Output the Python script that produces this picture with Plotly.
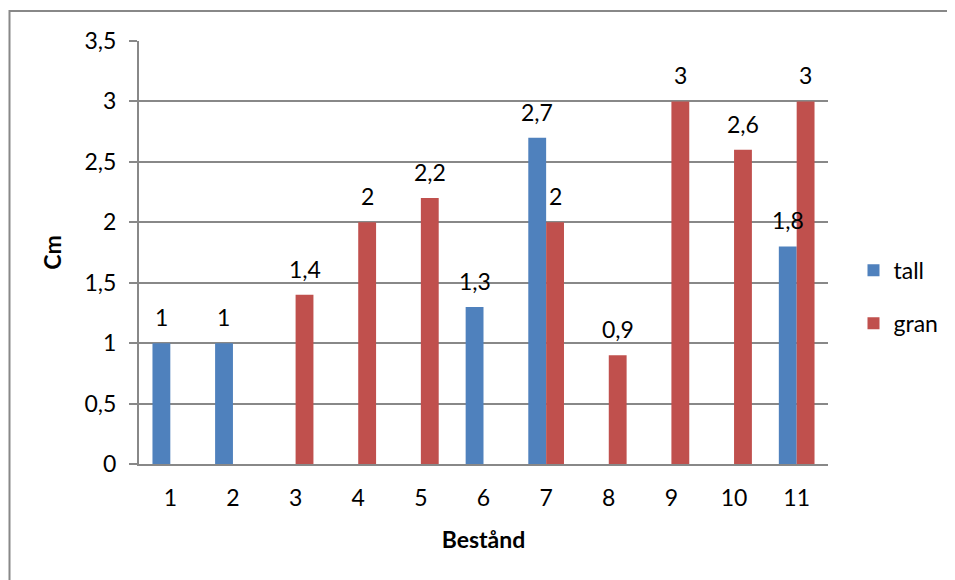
import plotly.graph_objects as go

categories = ["1", "2", "3", "4", "5", "6", "7", "8", "9", "10", "11"]
tall = [1, 1, None, None, None, 1.3, 2.7, None, None, None, 1.8]
gran = [None, None, 1.4, 2, 2.2, None, 2, 0.9, 3, 2.6, 3]
y_ticks = [0, 0.5, 1, 1.5, 2, 2.5, 3, 3.5]

BLUE = "#4F81BD"
RED = "#C0504D"
GRID = "#888888"
FONT = "Lato"
FS = 23

fig = go.Figure()
fig.add_trace(go.Bar(name="tall", x=categories, y=tall, marker_color=BLUE,
                     marker_line_width=0, legendgroup="a"))
fig.add_trace(go.Bar(name="gran", x=categories, y=gran, marker_color=RED,
                     marker_line_width=0, legendgroup="b"))

def fmt(v):
    return ("%g" % v).replace(".", ",")

annotations = []
for vals, shift in ((tall, -9), (gran, 9)):
    for i, v in enumerate(vals):
        if v is None:
            continue
        annotations.append(dict(x=i, y=v, xref="x", yref="y", text=fmt(v), showarrow=False,
                                xshift=shift, yshift=26, yanchor="middle",
                                font=dict(family=FONT, size=FS, color="black")))

# page body has an 8px margin, so offsets are compensated
fig.update_layout(
    width=955, height=580,
    margin=dict(l=131, r=135, t=33, b=124, autoexpand=False),
    paper_bgcolor="white", plot_bgcolor="white",
    barmode="group", bargap=0.43, bargroupgap=0,
    separators=", ",
    font=dict(family=FONT, size=FS, color="black"),
    annotations=annotations,
    showlegend=True,
    legend=dict(x=1.037, y=0.395, xanchor="left", yanchor="middle",
                font=dict(family=FONT, size=FS), tracegroupgap=20, itemwidth=30,
                bgcolor="rgba(0,0,0,0)"),
    shapes=[dict(type="rect", xref="paper", yref="paper",
                 x0=(9.5 - 139) / 689, x1=(975 - 139) / 689,
                 y0=(464 - 600) / 423, y1=(464 - 11) / 423,
                 line=dict(color="#888888", width=2), fillcolor="rgba(0,0,0,0)", layer="below")],
)
fig.update_xaxes(
    type="category", showline=True, linecolor=GRID, linewidth=2, ticks="",
    showgrid=False, ticklabelstandoff=12, automargin=False,
    title=dict(text="<b>Bestånd</b>", font=dict(family=FONT, size=FS), standoff=22),
)
fig.update_yaxes(
    range=[0, 3.5], tickvals=y_ticks, showline=True, linecolor=GRID, linewidth=2,
    ticks="outside", ticklen=8, tickcolor=GRID, tickwidth=2,
    showgrid=True, gridcolor=GRID, gridwidth=2, zeroline=False,
    ticklabelstandoff=8, automargin=False,
    title=dict(text="<b>Cm</b>", font=dict(family=FONT, size=FS), standoff=16),
)

fig.write_html("out.html")
